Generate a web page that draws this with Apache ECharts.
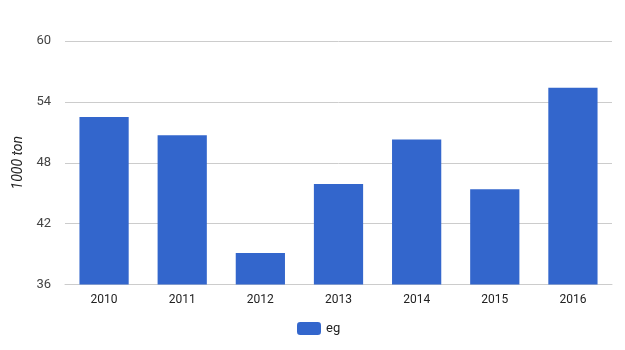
<!DOCTYPE html>
<html><head><meta charset="utf-8">
<script src="https://cdn.jsdelivr.net/npm/echarts@6/dist/echarts.min.js"></script>
<style>html,body{margin:0;padding:0;background:#fff}#c{width:625px;height:350px}</style>
</head><body><div id="c"></div>
<script>
const categories = ['2010','2011','2012','2013','2014','2015','2016'];
const values = [52.5, 50.7, 39.1, 45.9, 50.3, 45.4, 55.4];
const seriesName = 'eg';
const axisName = '1000 ton';
const yMin = 36, yMax = 60, yStep = 6;

const chart = echarts.init(document.getElementById('c'));
chart.setOption({
  animation: false,
  textStyle: {fontFamily: 'Roboto'},
  grid: {left: 65, right: 13, top: 41, bottom: 65.5},
  legend: {
    top: 317, left: 292, itemWidth: 24, itemHeight: 13, itemGap: 8,
    textStyle: {fontSize: 13, color: '#222'},
    data: [seriesName]
  },
  xAxis: {
    type: 'category', data: categories,
    axisTick: {show: false},
    axisLine: {lineStyle: {color: '#ccc'}},
    axisLabel: {color: '#222', fontSize: 12, margin: 9}
  },
  yAxis: {
    type: 'value', min: yMin, max: yMax, interval: yStep,
    name: axisName, nameLocation: 'middle', nameGap: 39,
    nameTextStyle: {fontStyle: 'italic', fontSize: 14, color: '#222'},
    axisLine: {show: false}, axisTick: {show: false},
    axisLabel: {color: '#444', fontSize: 13, margin: 14},
    splitLine: {lineStyle: {color: '#ccc'}}
  },
  series: [{
    name: seriesName, type: 'bar', data: values,
    barWidth: '63%', itemStyle: {color: '#3366cc'}
  }]
});
</script></body></html>
